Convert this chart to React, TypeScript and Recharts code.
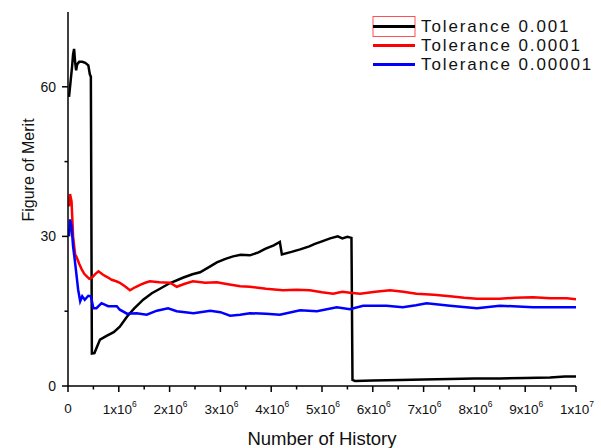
import { LineChart, Line, XAxis, YAxis, Legend } from 'recharts';

// x in millions of histories, y = figure of merit
const tol001: [number, number][] = [
  [0.02, 58], [0.05, 61], [0.08, 64], [0.1, 66.5], [0.12, 67.6], [0.14, 65], [0.16, 63.3], [0.18, 64.5],
  [0.22, 65], [0.28, 65], [0.34, 64.8], [0.4, 64.3], [0.43, 62.5], [0.45, 62], [0.47, 6.5], [0.52, 6.6],
  [0.63, 9.3], [0.75, 10], [0.9, 10.8], [1.02, 11.9], [1.16, 13.9], [1.3, 15.5], [1.48, 17.3], [1.65, 18.6],
  [1.81, 19.5], [2.0, 20.6], [2.26, 21.7], [2.45, 22.4], [2.6, 22.8], [2.8, 24], [2.93, 24.8], [3.1, 25.5],
  [3.25, 26], [3.4, 26.3], [3.58, 26.2], [3.75, 26.8], [3.88, 27.5], [4.05, 28.2], [4.17, 28.9], [4.21, 26.4],
  [4.4, 26.9], [4.57, 27.4], [4.75, 28], [4.86, 28.5], [5.0, 29], [5.16, 29.6], [5.31, 30], [5.4, 29.6],
  [5.5, 29.9], [5.58, 29.7], [5.6, 1.2], [5.65, 1.0], [6.0, 1.1], [6.54, 1.2], [7.0, 1.3], [7.52, 1.4],
  [8.0, 1.5], [8.5, 1.5], [9.0, 1.6], [9.49, 1.7], [9.78, 1.9], [10, 1.9],
];

const tol0001: [number, number][] = [
  [0.02, 36], [0.04, 38.5], [0.07, 37], [0.1, 30], [0.14, 26.4], [0.17, 25.8], [0.22, 24.5], [0.27, 23.4],
  [0.32, 22.5], [0.37, 22], [0.42, 21.5], [0.47, 21.7], [0.54, 22.5], [0.6, 23], [0.69, 22.3], [0.78, 21.8],
  [0.86, 21.3], [0.95, 21], [1.02, 20.7], [1.12, 20], [1.22, 19.2], [1.32, 19.8], [1.42, 20.3], [1.52, 20.7],
  [1.61, 21], [1.8, 20.8], [2.01, 20.7], [2.14, 19.9], [2.3, 20.5], [2.46, 21], [2.7, 20.7], [2.93, 20.8],
  [3.15, 20.4], [3.39, 20], [3.58, 19.9], [3.9, 19.5], [4.23, 19.2], [4.5, 19.3], [4.76, 19.2], [5.0, 18.8],
  [5.22, 18.5], [5.4, 18.9], [5.55, 18.7], [5.75, 18.5], [6.05, 18.9], [6.34, 19.2], [6.6, 18.9], [6.86, 18.5],
  [7.2, 18.3], [7.52, 18], [7.8, 17.7], [8.05, 17.5], [8.5, 17.5], [8.8, 17.7], [9.15, 17.8], [9.5, 17.6],
  [9.82, 17.6], [10, 17.4],
];

const tol00001: [number, number][] = [
  [0.02, 30], [0.04, 33.4], [0.07, 32], [0.1, 28], [0.14, 24.7], [0.2, 19.3], [0.24, 17], [0.28, 18],
  [0.33, 17.3], [0.4, 18.1], [0.45, 18], [0.5, 15.6], [0.56, 15.6], [0.66, 16.6], [0.79, 16], [0.96, 16],
  [1.02, 15.3], [1.16, 14.5], [1.35, 14.6], [1.55, 14.3], [1.75, 15.1], [1.97, 15.6], [2.14, 15], [2.47, 14.6],
  [2.8, 15.1], [3.0, 14.8], [3.19, 14.1], [3.39, 14.3], [3.58, 14.6], [3.9, 14.5], [4.17, 14.3], [4.57, 15.2],
  [4.9, 15], [5.29, 15.8], [5.55, 15.4], [5.81, 16.1], [6.27, 16.1], [6.59, 15.8], [6.85, 16.2], [7.06, 16.6],
  [7.52, 16.1], [8.05, 15.6], [8.5, 16.1], [9.15, 15.8], [9.6, 15.8], [10, 15.8],
];

const xTicks = [0, 0.5, 1, 1.5, 2, 2.5, 3, 3.5, 4, 4.5, 5, 5.5, 6, 6.5, 7, 7.5, 8, 8.5, 9, 9.5, 10];
const yTicks = [0, 15, 30, 45, 60];

const seriesNames = ['Tolerance 0.001', 'Tolerance 0.0001', 'Tolerance 0.00001'];
const seriesColors = ['#000000', '#ff0000', '#0000ff'];

const toPoints = (arr: [number, number][]) => arr.map(([x, y]) => ({ x, y }));

const FONT = '"Liberation Sans", Arial, sans-serif';

function BottomTick({ x, y, payload }: any) {
  const v = payload.value;
  const major = Number.isInteger(v);
  let label = null;
  if (major) {
    if (v === 0) {
      label = <text x={x} y={y + 27} textAnchor="middle" fontSize={13.5} fill="#111">0</text>;
    } else {
      const base = v === 10 ? '1x10' : `${v}x10`;
      const exp = v === 10 ? '7' : '6';
      label = (
        <text x={x + 1} y={y + 28} textAnchor="middle" fontSize={13.5} fill="#111">
          {base}
          <tspan dy={-7} fontSize={8.5}>{exp}</tspan>
        </text>
      );
    }
  }
  return (
    <g style={{ fontFamily: FONT }}>
      <line x1={x} x2={x} y1={y} y2={y + (major ? 6 : 3.5)} stroke="#000" strokeWidth={1.5} />
      {label}
    </g>
  );
}

function TopTick({ x, y, payload }: any) {
  const major = Number.isInteger(payload.value);
  return <line x1={x} x2={x} y1={y} y2={y - (major ? 5 : 3)} stroke="#000" strokeWidth={1.5} />;
}

function LeftTick({ x, y, payload }: any) {
  const v = payload.value;
  const major = v % 30 === 0;
  return (
    <g style={{ fontFamily: FONT }}>
      <line x1={x} x2={x - (major ? 6 : 3.5)} y1={y} y2={y} stroke="#000" strokeWidth={1.5} />
      {major && (
        <text x={x - 12} y={y + 5} textAnchor="end" fontSize={14} fill="#111">{v}</text>
      )}
    </g>
  );
}

function LegendBox() {
  return (
    <div style={{ fontFamily: FONT, fontSize: 17, letterSpacing: 1.9, color: '#111', lineHeight: '19px' }}>
      {seriesNames.map((name, i) => (
        <div key={name} style={{ display: 'flex', alignItems: 'center', height: 19 }}>
          <svg width={44} height={21} style={{ marginRight: 5 }}>
            {i === 0 && <rect x={1} y={0.5} width={42} height={20} fill="none" stroke="#ff5050" strokeWidth={1} />}
            <line x1={1} x2={43} y1={10.5} y2={10.5} stroke={seriesColors[i]} strokeWidth={3} />
          </svg>
          <span>{name}</span>
        </div>
      ))}
    </div>
  );
}

export default function App() {
  const all = [tol001, tol0001, tol00001];
  return (
    <div style={{ position: 'absolute', left: 0, top: 0, width: 601, height: 448, background: '#fff' }}>
      <LineChart width={601} height={448} margin={{ top: 12, right: 25, left: 0, bottom: 0 }}>
        <XAxis
          dataKey="x"
          type="number"
          domain={[0, 10]}
          ticks={xTicks}
          interval={0}
          height={62}
          tickSize={0}
          tickMargin={0}
          tickLine={false}
          tick={<BottomTick />}
          axisLine={{ stroke: '#000', strokeWidth: 1.5 }}
          allowDataOverflow
        />
        <XAxis
          xAxisId="top"
          orientation="top"
          dataKey="x"
          type="number"
          domain={[0, 10]}
          ticks={xTicks}
          interval={0}
          height={0}
          tickSize={0}
          tickMargin={0}
          tickLine={false}
          tick={<TopTick />}
          axisLine={{ stroke: '#000', strokeWidth: 1.5 }}
        />
        <YAxis
          type="number"
          domain={[0, 75]}
          ticks={yTicks}
          interval={0}
          width={68}
          tickSize={0}
          tickMargin={0}
          tickLine={false}
          tick={<LeftTick />}
          axisLine={{ stroke: '#000', strokeWidth: 1.5 }}
        />
        <YAxis
          yAxisId="right"
          orientation="right"
          type="number"
          domain={[0, 75]}
          width={0}
          tick={false}
          tickLine={false}
          axisLine={{ stroke: '#000', strokeWidth: 1.5 }}
        />
        <Legend
          layout="vertical"
          align="center"
          verticalAlign="middle"
          wrapperStyle={{ top: 17, left: 372, width: 228, height: 60 }}
          content={<LegendBox />}
        />
        {all.map((arr, i) => (
          <Line
            key={seriesNames[i]}
            data={toPoints(arr)}
            dataKey="y"
            name={seriesNames[i]}
            type="linear"
            stroke={seriesColors[i]}
            strokeWidth={2.5}
            dot={false}
            isAnimationActive={false}
          />
        ))}
        <text x={322} y={445} textAnchor="middle" fontSize={18.5} fill="#111" style={{ fontFamily: FONT }}>
          Number of History
        </text>
        <text
          x={34}
          y={170}
          transform="rotate(-90, 34, 170)"
          textAnchor="middle"
          fontSize={16}
          fill="#111"
          style={{ fontFamily: FONT }}
        >
          Figure of Merit
        </text>
      </LineChart>
    </div>
  );
}
